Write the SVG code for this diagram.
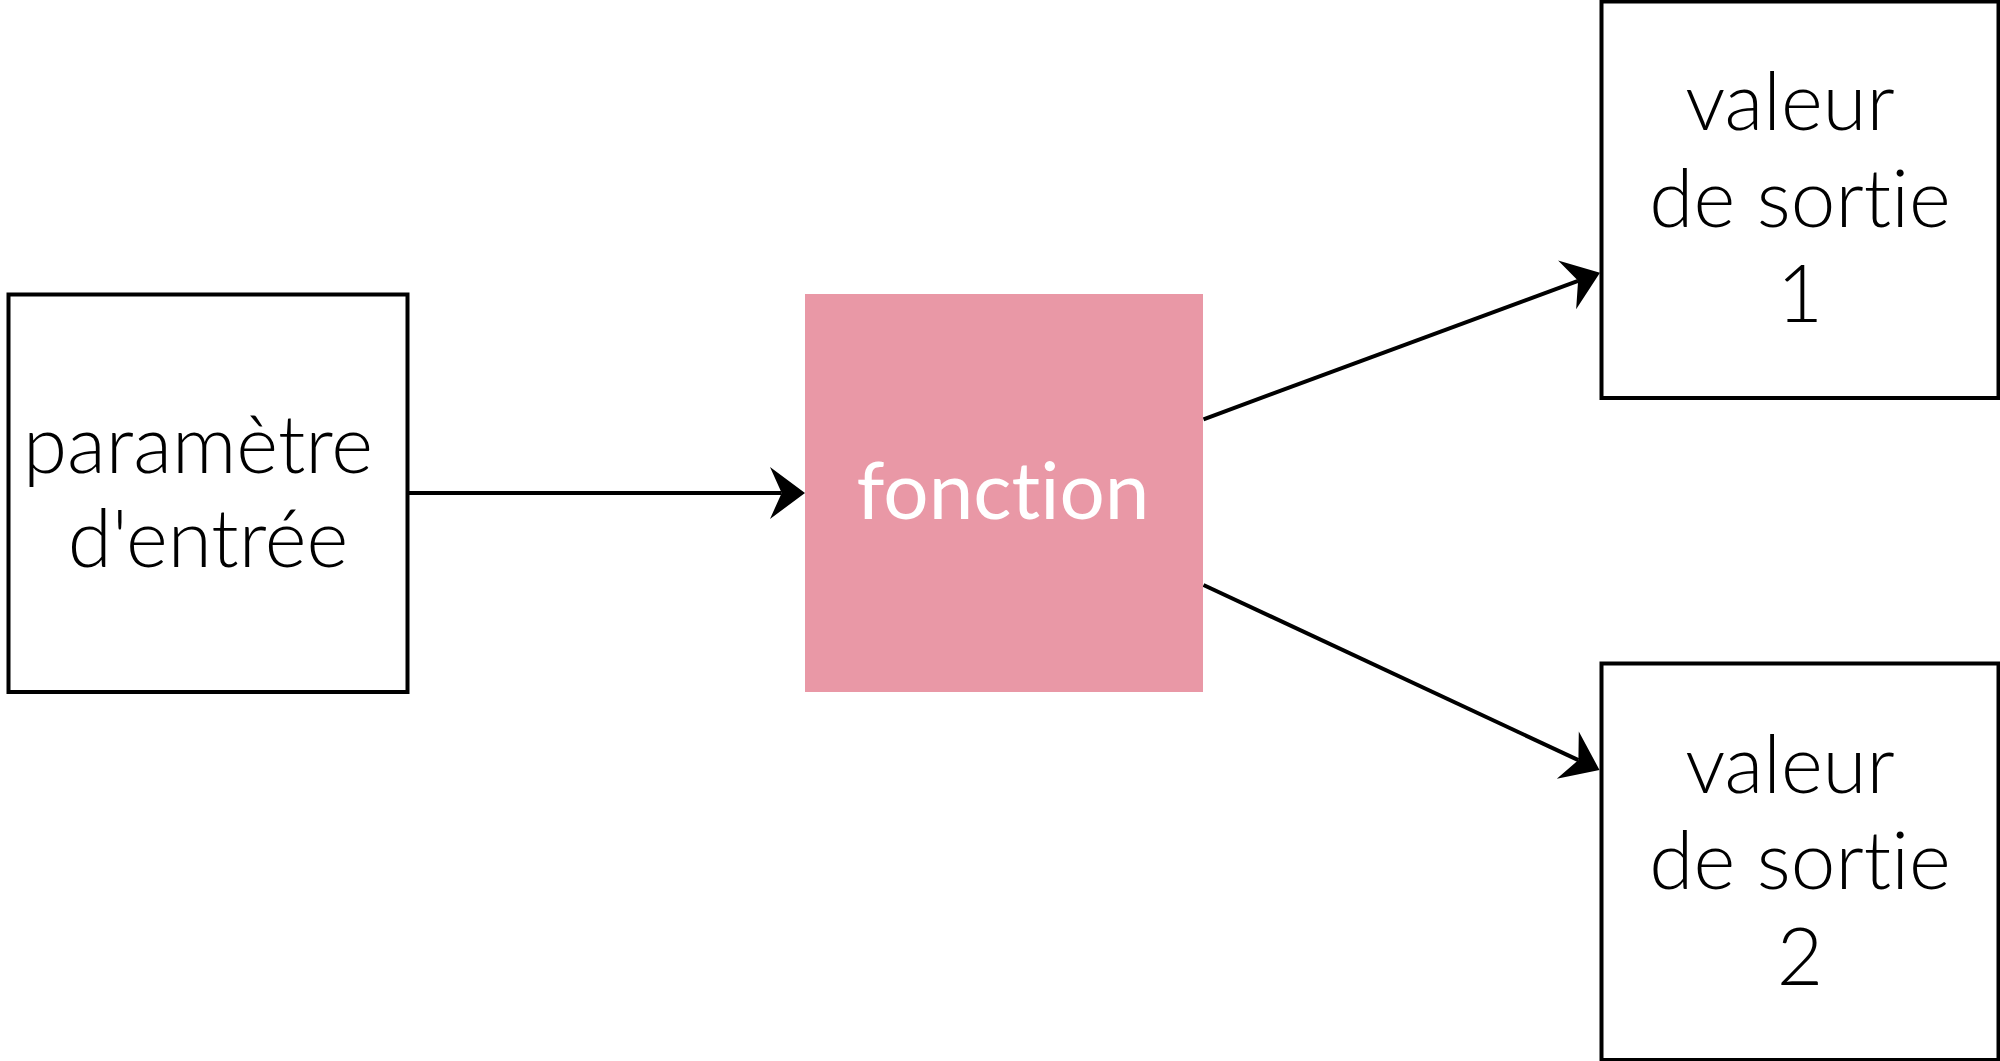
<svg xmlns="http://www.w3.org/2000/svg" width="2000" height="1061" viewBox="0 0 2000 1061">
<defs>
<style>
.box{fill:#ffffff;stroke:#000000;stroke-width:4}
.fn{fill:#e998a6;stroke:none}
.lbl{font-family:Lato,"Open Sans","Liberation Sans",sans-serif;font-size:80px;font-weight:300;fill:#000000;text-anchor:middle;font-variant-ligatures:none;font-feature-settings:"liga" 0,"clig" 0}
.lblw{font-family:Lato,"Open Sans","Liberation Sans",sans-serif;font-size:80px;font-weight:400;fill:#ffffff;text-anchor:middle;font-variant-ligatures:none;font-feature-settings:"liga" 0,"clig" 0}
.edge{fill:none;stroke:#000000;stroke-width:4}
</style>
<marker id="arr" markerUnits="userSpaceOnUse" markerWidth="40" markerHeight="56" viewBox="-12 -28 37 56" refX="0" refY="0" orient="auto" overflow="visible">
<path d="M23.3,0 L-11.7,-26 L0,0 L-11.7,26 Z" fill="#000000"/>
</marker>
</defs>
<rect width="2000" height="1061" fill="#ffffff"/>
<g id="edges">
<path class="edge" d="M408,493 L781.7,493" marker-end="url(#arr)"/>
<path class="edge" d="M1203.5,419.3 L1578.1,280.8" marker-end="url(#arr)"/>
<path class="edge" d="M1203.5,585 L1578.4,760.1" marker-end="url(#arr)"/>
</g>
<g id="node-input">
<rect class="box" x="8.5" y="294.5" width="399" height="397.5"/>
<text class="lbl" x="198" y="472.7">paramètre</text>
<text class="lbl" x="208" y="567.3">d'entrée</text>
</g>
<g id="node-function">
<rect class="fn" x="805" y="294" width="398" height="398"/>
<text class="lblw" x="1003" y="519.3">fonction</text>
</g>
<g id="node-output1">
<rect class="box" x="1601.5" y="1.5" width="397" height="396.5"/>
<text class="lbl" x="1790" y="130">valeur</text>
<text class="lbl" x="1800" y="226.7">de sortie</text>
<text class="lbl" x="1800" y="321.7">1</text>
</g>
<g id="node-output2">
<rect class="box" x="1601.5" y="663.5" width="397" height="396.5"/>
<text class="lbl" x="1790" y="793.3">valeur</text>
<text class="lbl" x="1800" y="889.3">de sortie</text>
<text class="lbl" x="1800" y="985">2</text>
</g>
</svg>
